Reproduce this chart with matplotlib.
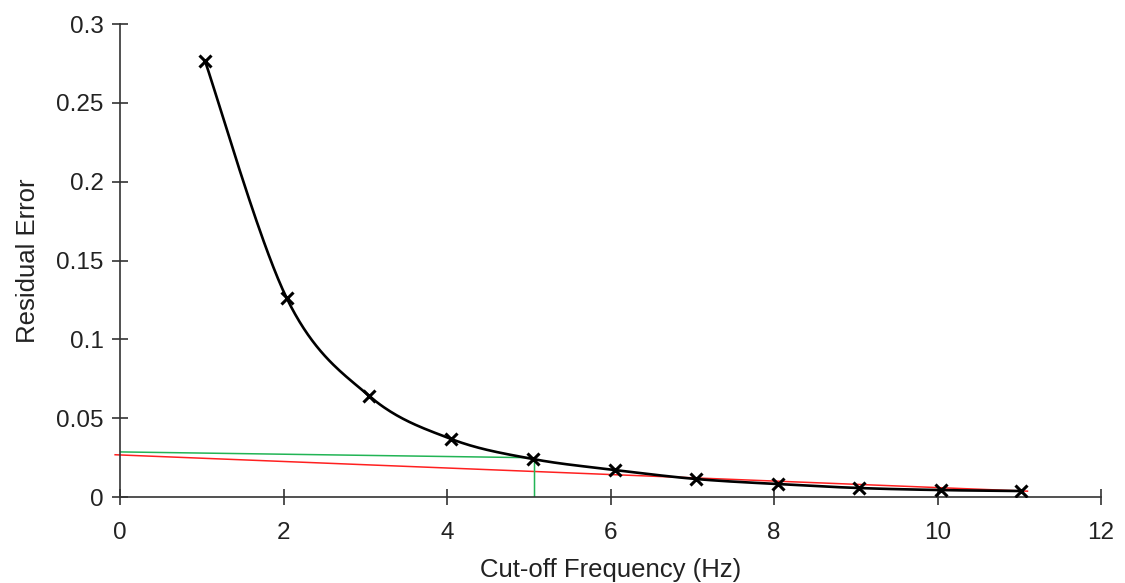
import numpy as np
import matplotlib
matplotlib.use("Agg")
import matplotlib.pyplot as plt

plt.rcParams['font.family'] = ['Liberation Sans', 'DejaVu Sans']

# residual error vs cut-off frequency
cutoff_hz = [1.04, 2.04, 3.05, 4.05, 5.05, 6.06, 7.05, 8.05, 9.04, 10.04, 11.02]
residual = [0.2765, 0.126, 0.064, 0.0368, 0.0241, 0.0171, 0.0114, 0.0082, 0.0057, 0.0044, 0.0038]

# linear fit through the high-frequency tail (noise line)
noise_x = [-0.06, 11.1]
noise_y = [0.0268, 0.0037]

# chosen cut-off: intercept carried across to the curve, then down to the axis
guide_x = [0.0, 5.07, 5.07]
guide_y = [0.0286, 0.0249, 0.0]


def smooth(xs, ys, n=40):
    # Catmull-Rom style bezier through every point
    p = np.column_stack([xs, ys])
    pts = np.vstack([p[0], p, p[-1]])
    out = []
    t = np.linspace(0, 1, n)[:, None]
    for i in range(1, len(pts) - 2):
        p0, p1, p2, p3 = pts[i - 1], pts[i], pts[i + 1], pts[i + 2]
        c1 = p1 + (p2 - p0) / 6
        c2 = p2 - (p3 - p1) / 6
        seg = ((1 - t) ** 3) * p1 + 3 * ((1 - t) ** 2) * t * c1 + 3 * (1 - t) * t ** 2 * c2 + t ** 3 * p2
        out.append(seg)
    out = np.vstack(out)
    return out[:, 0], out[:, 1]


fig = plt.figure(figsize=(11.25, 5.83), dpi=100)
ax = fig.add_axes([0.1067, 0.1475, 0.872, 0.8113])

sx, sy = smooth(cutoff_hz, residual)
ax.plot(sx, sy, color='black', lw=1.9, zorder=3)
ax.plot(cutoff_hz, residual, ls='none', marker='x', ms=9, mew=2.2, color='black', zorder=4)
ax.plot(noise_x, noise_y, color='#ff2020', lw=1.1, zorder=2, clip_on=False)
ax.plot(guide_x, guide_y, color='#22b455', lw=1.1, zorder=2)

ax.set_xlim(0, 12)
ax.set_ylim(0, 0.3)
ax.set_xticks(range(0, 13, 2))
ax.set_yticks([0, 0.05, 0.1, 0.15, 0.2, 0.25, 0.3])
ax.set_yticklabels(['0', '0.05', '0.1', '0.15', '0.2', '0.25', '0.3'])

for side in ('top', 'right'):
    ax.spines[side].set_visible(False)
for side in ('left', 'bottom'):
    ax.spines[side].set_color('#333333')
    ax.spines[side].set_linewidth(1.2)

ax.tick_params(axis='both', direction='inout', length=11.5, width=1.2, color='#333333',
               labelsize=17.5, labelcolor='#222222')
ax.tick_params(axis='y', pad=6)
ax.tick_params(axis='x', pad=12)

ax.set_xlabel('Cut-off Frequency (Hz)', fontsize=18.5, color='#222222', labelpad=10)
ax.set_ylabel('Residual Error', fontsize=18.5, color='#222222', labelpad=12)

fig.savefig('out.png', dpi=100)
